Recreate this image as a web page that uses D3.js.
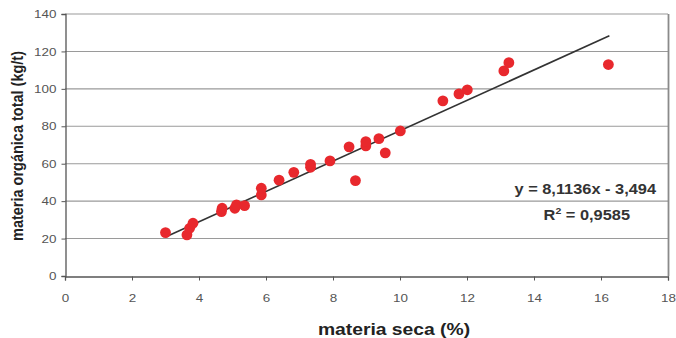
<!DOCTYPE html>
<html>
<head>
<meta charset="utf-8">
<script src="https://cdn.jsdelivr.net/npm/d3@7"></script>
<style>
  body { margin: 0; background: #fff; }
  text { font-family: Arial, "Liberation Sans", sans-serif; }
</style>
</head>
<body>
<div id="chart"></div>
<script>
// dry matter (%) vs total organic matter (kg/t)
const seca = [3.0, 3.64, 3.72, 3.82, 4.67, 4.69, 5.07, 5.12, 5.36, 5.86, 5.86, 6.39, 6.83,
  7.33, 7.33, 7.91, 8.48, 8.67, 8.98, 8.98, 9.37, 9.56, 10.01, 11.28, 11.76, 12.01, 13.1, 13.25, 16.22];
const organica = [23.2, 22, 25.5, 28.2, 34.4, 36.2, 36.2, 38, 37.6, 43.3, 46.9, 51.2, 55.4,
  58.1, 59.7, 61.5, 69, 51, 69.5, 71.8, 73.4, 65.8, 77.5, 93.6, 97.3, 99.5, 109.6, 114, 113];
const xTicks = [0, 2, 4, 6, 8, 10, 12, 14, 16, 18];
const yTicks = [0, 20, 40, 60, 80, 100, 120, 140];
const slope = 8.1136, intercept = -3.494;
const fitRange = [3.0, 16.25];

const width = 676, height = 338;
const margin = { top: 14, right: 8, bottom: 62, left: 65 };
const stretch = 1.17; // the original picture is a bit wider than tall

const svg = d3.select('#chart').append('svg')
  .attr('width', width)
  .attr('height', height);

const x = d3.scaleLinear().domain([0, 18]).range([margin.left, width - margin.right]);
const y = d3.scaleLinear().domain([0, 140]).range([height - margin.bottom, margin.top]);

// gridlines
svg.append('g')
  .selectAll('line')
  .data(yTicks.filter(d => d > 0))
  .join('line')
  .attr('x1', x(0))
  .attr('x2', x(18))
  .attr('y1', d => y(d))
  .attr('y2', d => y(d))
  .attr('stroke', '#9a9a9a')
  .attr('stroke-width', 1.1);

// right frame
svg.append('line')
  .attr('x1', x(18) + 0.5).attr('x2', x(18) + 0.5)
  .attr('y1', y(140)).attr('y2', y(0))
  .attr('stroke', '#8a8a8a').attr('stroke-width', 1.8);

// axes
const xAxis = svg.append('g')
  .attr('transform', `translate(0,${y(0) + 0.5})`)
  .call(d3.axisBottom(x).tickValues(xTicks).tickSize(4).tickPadding(13).tickFormat(d3.format('d')));
const yAxis = svg.append('g')
  .attr('transform', `translate(${x(0) + 0.5},0)`)
  .call(d3.axisLeft(y).tickValues(yTicks).tickSize(4).tickPadding(5).tickFormat(d3.format('d')));

[xAxis, yAxis].forEach(g => {
  g.select('.domain').attr('stroke', '#555').attr('stroke-width', 1.3);
  g.selectAll('.tick line').attr('stroke', '#555');
  g.selectAll('.tick text')
    .attr('fill', '#555')
    .attr('font-size', 11.5)
    .attr('font-family', 'Arial, "Liberation Sans", sans-serif')
    .attr('transform', `scale(${stretch},1)`);
});
yAxis.selectAll('.tick text').attr('x', -9 / stretch);

// regression line
svg.append('line')
  .attr('x1', x(fitRange[0]))
  .attr('y1', y(slope * fitRange[0] + intercept))
  .attr('x2', x(fitRange[1]))
  .attr('y2', y(slope * fitRange[1] + intercept))
  .attr('stroke', '#333')
  .attr('stroke-width', 1.6);

// points
svg.append('g')
  .selectAll('circle')
  .data(seca.map((s, i) => [s, organica[i]]))
  .join('circle')
  .attr('cx', d => x(d[0]))
  .attr('cy', d => y(d[1]))
  .attr('r', 5.4)
  .attr('fill', '#e8282d');

// equation
svg.append('text')
  .attr('transform', `translate(656,194) scale(${stretch},1)`)
  .attr('text-anchor', 'end')
  .attr('font-size', 14).attr('font-weight', 'bold').attr('fill', '#333')
  .text('y = 8,1136x - 3,494');

const r2 = svg.append('text')
  .attr('transform', `translate(630,220) scale(${stretch},1)`)
  .attr('text-anchor', 'end')
  .attr('font-size', 14).attr('font-weight', 'bold').attr('fill', '#333');
r2.append('tspan').text('R');
r2.append('tspan').attr('dy', -6).attr('font-size', 9).text('2');
r2.append('tspan').attr('dy', 6).text(' = 0,9585');

// axis titles
svg.append('text')
  .attr('transform', `translate(394,335) scale(${stretch},1)`)
  .attr('text-anchor', 'middle')
  .attr('font-size', 16.5).attr('font-weight', 'bold').attr('fill', '#222')
  .text('materia seca (%)');

svg.append('text')
  .attr('transform', `translate(23,146) scale(${stretch},1) rotate(-90)`)
  .attr('text-anchor', 'middle')
  .attr('font-size', 14.5).attr('font-weight', 'bold').attr('fill', '#222')
  .text('materia orgánica total (kg/t)');
</script>
</body>
</html>
